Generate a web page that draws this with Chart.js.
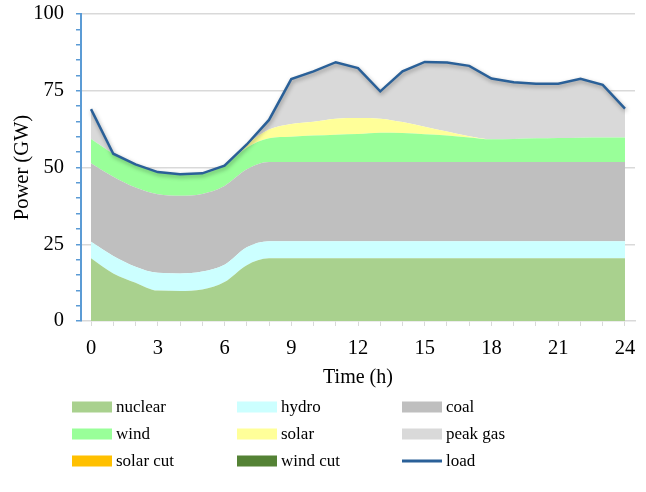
<!DOCTYPE html>
<html>
<head>
<meta charset="utf-8">
<script src="https://cdn.jsdelivr.net/npm/chart.js@4/dist/chart.umd.min.js"></script>
<style>
  html, body { margin: 0; padding: 0; background: #fff; }
  #wrap { width: 646px; height: 492px; position: relative; }
</style>
</head>
<body>
<div id="wrap"><canvas id="chart" width="646" height="492"></canvas></div>
<script>
// hourly values (GW)
const hours   = [0,1,2,3,4,5,6,7,8,9,10,11,12,13,14,15,16,17,18,19,20,21,22,23,24];
const nuclear = [20.4,15.5,12.5,9.9,9.8,10.3,12.7,18.2,20.4,20.4,20.4,20.4,20.4,20.4,20.4,20.4,20.4,20.4,20.4,20.4,20.4,20.4,20.4,20.4,20.4];
const hydro   = [5.4,5.7,5.2,5.8,5.7,5.8,5.6,5.8,5.6,5.6,5.6,5.6,5.6,5.6,5.6,5.6,5.6,5.6,5.6,5.6,5.6,5.6,5.6,5.6,5.6];
const coal    = [25.6,25.8,25.8,25.6,25.3,25.3,25.7,25.4,25.8,25.8,25.8,25.8,25.8,25.8,25.8,25.8,25.8,25.8,25.8,25.8,25.8,25.8,25.8,25.8,25.8];
const wind    = [7.9,7.5,7.5,7.2,7.0,6.7,6.6,7.0,7.7,8.2,8.6,8.9,9.1,9.5,9.4,9.0,8.6,8.0,7.4,7.5,7.7,7.8,7.9,8.0,8.0];
const solar   = [0,0,0,0,0,0,0,1.1,2.9,4.2,4.5,5.2,5.2,4.6,3.6,2.5,1.3,0.4,0,0,0,0,0,0,0];
const peakGas = [9.7,0,0,0,0,0,0,0,3.1,14.6,16.4,18.4,16.3,8.9,16.5,21.1,22.5,22.9,19.8,18.5,17.8,17.7,19.2,17.1,9.4];
const solarCut = [0,0,0,0,0,0,0,0,0,0,0,0,0,0,0,0,0,0,0,0,0,0,0,0,0];
const windCut  = [0,0,0,0,0,0,0,0,0,0,0,0,0,0,0,0,0,0,0,0,0,0,0,0,0];
const load    = [69,54.5,51,48.5,47.8,48.1,50.6,57.5,65.5,78.8,81.3,84.3,82.4,74.8,81.3,84.4,84.2,83.1,79,77.8,77.3,77.3,78.9,76.9,69.2];
const yTicks  = [0,25,50,75,100];

const FONT = "'Liberation Serif', 'Times New Roman', serif";

function pts(arr) { return hours.map((h, i) => ({x: h, y: arr[i]})); }

function area(label, arr, color, fill, smooth) {
  return {
    label, data: pts(arr), backgroundColor: color, borderColor: color,
    borderWidth: 0, pointRadius: 0, fill,
    tension: smooth ? 0.4 : 0, cubicInterpolationMode: smooth ? 'monotone' : 'default',
    stack: 'gen'
  };
}

// legend drawn as a 3-column grid below the axis title
const gridLegend = {
  id: 'gridLegend',
  afterDraw(chart) {
    const ctx = chart.ctx;
    const colX = [72, 237, 402];
    const rowY = [407, 434, 461];
    ctx.save();
    ctx.font = '17px ' + FONT;
    ctx.textBaseline = 'middle';
    chart.data.datasets.forEach((ds, i) => {
      const x = colX[i % 3], y = rowY[Math.floor(i / 3)];
      if (ds.legendLine) {
        ctx.strokeStyle = ds.borderColor;
        ctx.lineWidth = 3;
        ctx.beginPath(); ctx.moveTo(x, y); ctx.lineTo(x + 40, y); ctx.stroke();
      } else {
        ctx.fillStyle = ds.backgroundColor;
        ctx.fillRect(x, y - 5.5, 40, 11);
      }
      ctx.fillStyle = '#000';
      ctx.fillText(ds.label, x + 44, y + 1);
    });
    ctx.restore();
  }
};

// soft shadow under the load line
const lineShadow = {
  id: 'lineShadow',
  beforeDatasetDraw(chart, args) {
    if (!chart.data.datasets[args.index].legendLine) return;
    const ctx = chart.ctx;
    ctx.save();
    ctx.shadowColor = 'rgba(0,0,0,0.35)';
    ctx.shadowBlur = 4;
    ctx.shadowOffsetX = 1;
    ctx.shadowOffsetY = 2;
  },
  afterDatasetDraw(chart, args) {
    if (!chart.data.datasets[args.index].legendLine) return;
    chart.ctx.restore();
  }
};

new Chart(document.getElementById('chart'), {
  type: 'line',
  data: {
    datasets: [
      area('nuclear', nuclear, '#A9D18E', 'origin', true),
      area('hydro', hydro, '#CCFFFF', '-1', true),
      area('coal', coal, '#BFBFBF', '-1', true),
      area('wind', wind, '#99FF99', '-1', true),
      area('solar', solar, '#FFFF99', '-1', true),
      area('peak gas', peakGas, '#D9D9D9', '-1', false),
      area('solar cut', solarCut, '#FFC000', '-1', false),
      area('wind cut', windCut, '#548235', '-1', false),
      {
        label: 'load', data: pts(load), borderColor: '#2A6098', backgroundColor: '#2A6098',
        borderWidth: 2.5, pointRadius: 0, fill: false, tension: 0, stack: 'load',
        order: -1, legendLine: true
      }
    ]
  },
  options: {
    responsive: false,
    animation: false,
    layout: { padding: { top: 14, right: 11, bottom: 96, left: 0 } },
    plugins: { legend: { display: false }, tooltip: { enabled: false } },
    scales: {
      x: {
        type: 'linear', min: -0.45, max: 24.45,
        afterBuildTicks: s => { s.ticks = hours.map(v => ({value: v})); },
        afterFit: s => { s.height = 75; s.paddingLeft = 0; s.paddingRight = 0; },
        ticks: {
          autoSkip: false, maxRotation: 0, padding: 10, color: '#000',
          font: { family: FONT, size: 20.5 },
          callback: v => (v % 3 === 0 ? String(v) : '')
        },
        grid: { drawOnChartArea: false, tickLength: 5, color: '#D9D9D9', tickColor: '#D9D9D9' },
        border: { color: '#D9D9D9', width: 1.5 },
        title: { display: true, text: 'Time (h)', color: '#000', font: { family: FONT, size: 20 }, padding: { top: 0, bottom: 6 } }
      },
      y: {
        stacked: true, min: 0, max: 100,
        afterBuildTicks: s => {
          const t = [];
          for (let v = 0; v <= 100; v += 5) t.push({value: v});
          s.ticks = t;
        },
        afterFit: s => { s.width = 81; s.paddingTop = 0; s.paddingBottom = 0; },
        ticks: {
          autoSkip: false, padding: 12, color: '#000',
          font: { family: FONT, size: 20.5 },
          callback: v => (yTicks.includes(v) ? String(v) : '')
        },
        grid: {
          tickLength: 5, tickColor: '#5B9BD5', lineWidth: 1.5,
          color: c => (c.tick && c.tick.value % 25 === 0 && c.tick.value > 0 ? '#D9D9D9' : 'rgba(0,0,0,0)')
        },
        border: { color: '#5B9BD5', width: 2 },
        title: { display: true, text: 'Power (GW)', color: '#000', font: { family: FONT, size: 20.5 }, padding: { top: 10, bottom: 0 } }
      }
    }
  },
  plugins: [gridLegend, lineShadow]
});
</script>
</body>
</html>
